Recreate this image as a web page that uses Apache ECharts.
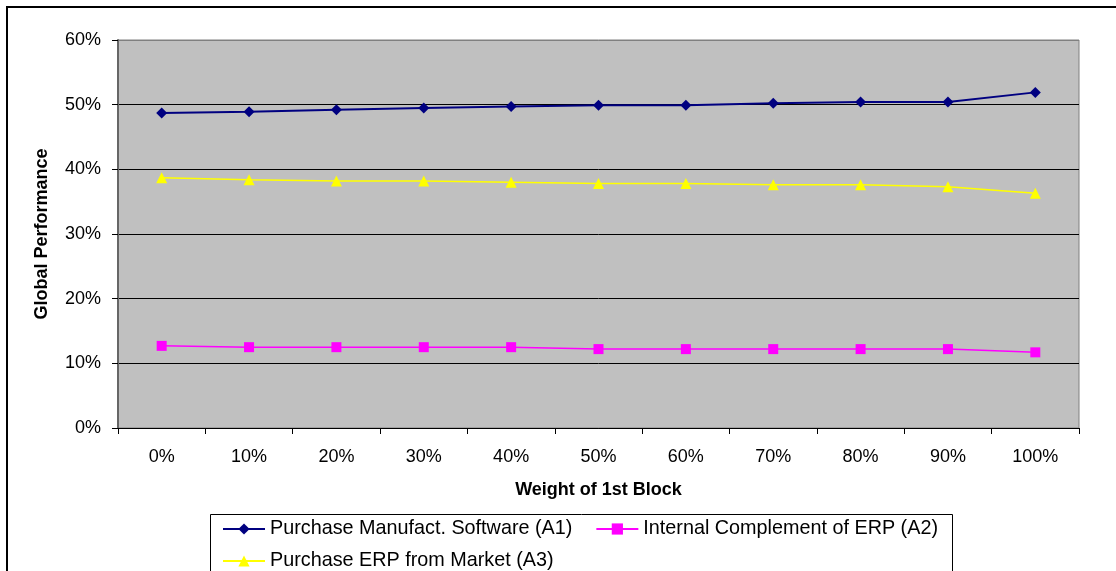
<!DOCTYPE html>
<html>
<head>
<meta charset="utf-8">
<script src="https://cdn.jsdelivr.net/npm/echarts@6/dist/echarts.min.js"></script>
<style>
  html, body { margin: 0; padding: 0; background: #fff; }
  #chart { width: 1116px; height: 571px; }
</style>
</head>
<body>
<div id="chart"></div>
<script>
// Weight of the first criteria block (x categories)
const categories = ['0%', '10%', '20%', '30%', '40%', '50%', '60%', '70%', '80%', '90%', '100%'];

// Global performance of each alternative, in percent
const seriesNames = [
  'Purchase Manufact. Software (A1)',
  'Internal Complement of ERP (A2)',
  'Purchase ERP from Market (A3)'
];
const a1Values = [48.7, 48.9, 49.2, 49.5, 49.7, 49.9, 49.9, 50.2, 50.4, 50.4, 51.9];
const a2Values = [12.7, 12.5, 12.5, 12.5, 12.5, 12.2, 12.2, 12.2, 12.2, 12.2, 11.7];
const a3Values = [38.7, 38.4, 38.2, 38.2, 38.0, 37.8, 37.8, 37.6, 37.6, 37.3, 36.3];

// Value axis ticks
const yMin = 0, yMax = 60, yStep = 10;

const FONT = 'Liberation Sans, Arial, Helvetica, sans-serif';

const chart = echarts.init(document.getElementById('chart'), null, { renderer: 'canvas' });

function lineSeries(name, data, color, symbol, size, width) {
  return {
    name: name,
    type: 'line',
    data: data,
    symbol: symbol,
    symbolSize: size,
    showSymbol: true,
    animation: false,
    lineStyle: { color: color, width: width },
    itemStyle: { color: color, borderWidth: 0 },
    emphasis: { disabled: true }
  };
}

const legendText = { fontFamily: FONT, fontSize: 19.8, color: '#000' };

chart.setOption({
  backgroundColor: '#ffffff',
  animation: false,
  grid: {
    left: 118, top: 40, width: 961, height: 388,
    show: true, backgroundColor: '#C0C0C0',
    borderColor: '#808080', borderWidth: 1,
    containLabel: false
  },
  legend: [
    {
      data: [seriesNames[0], seriesNames[1]],
      left: 222, top: 519, orient: 'horizontal',
      itemWidth: 42, itemHeight: 14, itemGap: 23,
      textStyle: legendText, padding: 0, selectedMode: false
    },
    {
      data: [seriesNames[2]],
      left: 222, top: 551, orient: 'horizontal',
      itemWidth: 42, itemHeight: 14, itemGap: 23,
      textStyle: legendText, padding: 0, selectedMode: false
    }
  ],
  xAxis: {
    type: 'category',
    data: categories,
    boundaryGap: true,
    name: 'Weight of 1st Block',
    nameLocation: 'middle',
    nameGap: 53,
    nameTextStyle: { fontFamily: FONT, fontSize: 18, fontWeight: 'bold', color: '#000' },
    axisLine: { show: true, lineStyle: { color: '#000', width: 1 } },
    axisTick: { show: true, inside: false, length: 6, alignWithLabel: false, lineStyle: { color: '#000' } },
    axisLabel: { fontFamily: FONT, fontSize: 18, color: '#000', margin: 20 },
    splitLine: { show: false }
  },
  yAxis: {
    type: 'value',
    min: yMin, max: yMax, interval: yStep,
    name: 'Global Performance',
    nameLocation: 'middle',
    nameGap: 67,
    nameTextStyle: { fontFamily: FONT, fontSize: 18, fontWeight: 'bold', color: '#000' },
    axisLine: { show: true, lineStyle: { color: '#666666', width: 2 } },
    axisTick: { show: true, inside: false, length: 6, lineStyle: { color: '#000' } },
    axisLabel: { fontFamily: FONT, fontSize: 18, color: '#000', margin: 17, formatter: '{value}%' },
    splitLine: {
      show: true,
      lineStyle: { color: ['#000', '#000', '#000', '#000', '#000', '#000', '#808080'], width: 1 }
    }
  },
  series: [
    lineSeries(seriesNames[0], a1Values, '#000080', 'diamond', 11, 2),
    lineSeries(seriesNames[1], a2Values, '#FF00FF', 'rect', 10, 1.5),
    lineSeries(seriesNames[2], a3Values, '#FFFF00', 'triangle', 11, 1.5)
  ],
  graphic: [
    {
      type: 'rect', silent: true, z: -1,
      shape: { x: 7, y: 7, width: 1200, height: 700 },
      style: { fill: null, stroke: '#000', lineWidth: 2 }
    },
    {
      type: 'rect', silent: true, z: -1,
      shape: { x: 210.5, y: 514.5, width: 742, height: 100 },
      style: { fill: null, stroke: '#000', lineWidth: 1 }
    }
  ]
});
</script>
</body>
</html>
